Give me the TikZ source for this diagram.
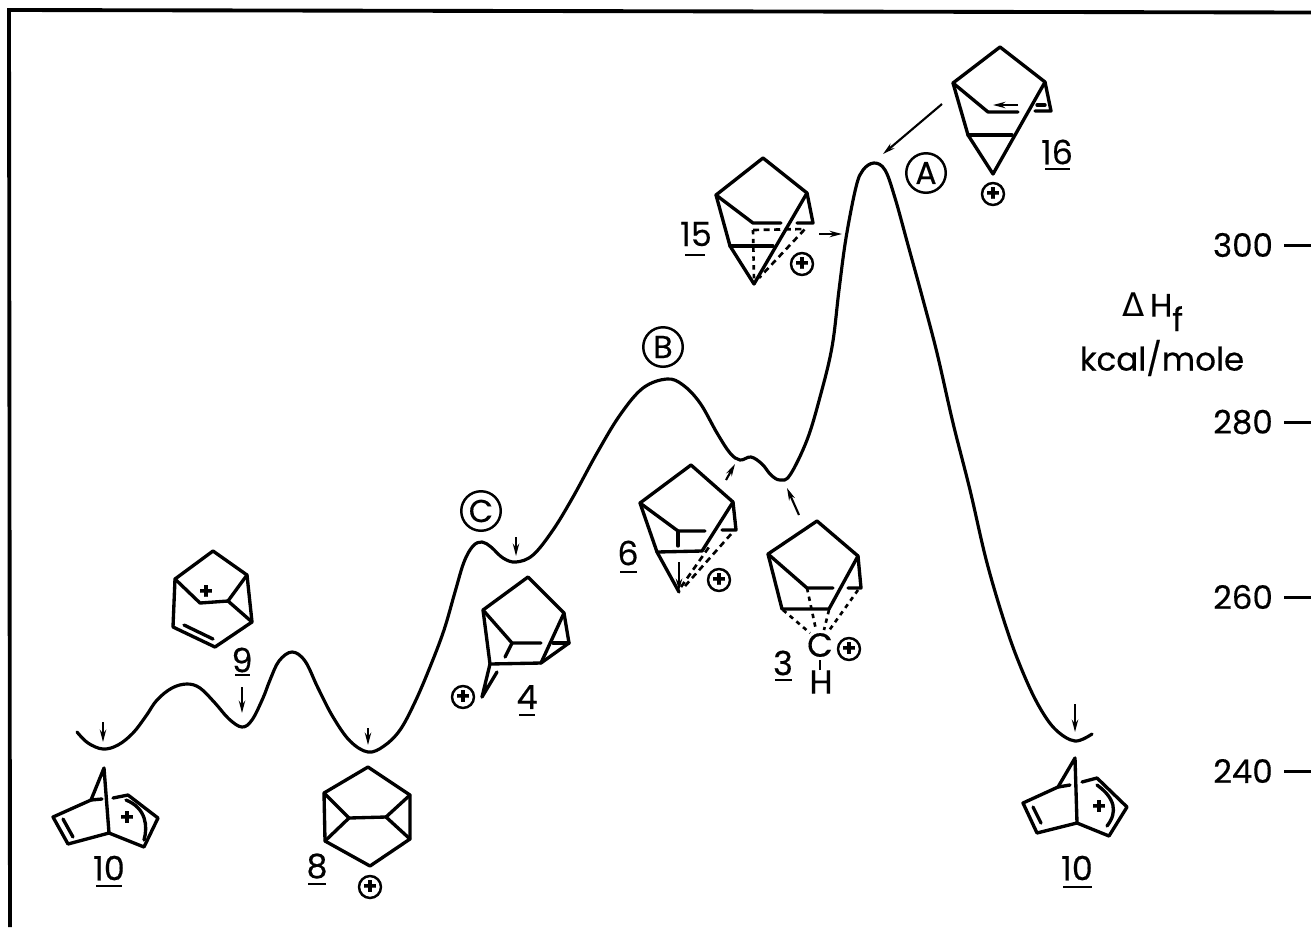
\documentclass[tikz,border=0pt]{standalone}
\usepackage{fontspec}
\setmainfont{Poppins}[FakeBold=0.35]
\newfontfamily\greekfont{DejaVu Sans}
\usetikzlibrary{arrows.meta}
\tikzset{
  frameline/.style={draw=black,line width=2.2pt},
  bond/.style={draw=black,line width=1.9pt,line join=round,line cap=round},
  thinbond/.style={draw=black,line width=1.2pt},
  dashbond/.style={draw=black,line width=1.5pt,dash pattern=on 3.5pt off 2.5pt},
  dotbond/.style={draw=black,line width=1.5pt,dash pattern=on 2.5pt off 2.5pt},
  energy/.style={draw=black,line width=1.8pt,line cap=round},
  pointer/.style={draw=black,line width=1.2pt,-{Stealth[length=7pt,width=3.6pt]}},
  tick/.style={draw=black,line width=1.7pt},
  compound/.style={font=\fontsize{19}{21}\selectfont,inner sep=0pt},
  axislabel/.style={font=\fontsize{18.5}{21}\selectfont,inner sep=0pt},
  charge/.style={circle,draw=black,line width=1.4pt,minimum size=12.5pt,inner sep=0pt,font=\fontsize{13}{13}\selectfont\bfseries},
  state/.style={circle,draw=black,line width=1.4pt,minimum size=22.5pt,inner sep=0pt,font=\fontsize{18}{20}\selectfont},
  plussign/.style={inner sep=0pt,font=\fontsize{13}{13}\selectfont\bfseries},
  underbar/.style={draw=black,line width=1.6pt}
}
\begin{document}
\begin{tikzpicture}[x=0.02cm,y=-0.02cm]
  \useasboundingbox (0,0) rectangle (1311,927);
  \draw[frameline] (10,927)--(9,10)--(1311,12.5);

  \draw[energy] plot[smooth,tension=0.6] coordinates {
    (77,732) (88,743) (103,749) (118,745) (133,733) (146,716) (157,700) (172,688) (187,684)
    (200,688) (215,703) (229,719) (242,727) (252,720) (263,698) (270,680) (279,661)
    (292,652) (305,661) (318,688) (333,717) (350,741) (368,752) (384,746) (400,730)
    (415,702) (430,667) (444,630) (455,592) (464,562) (473,546) (482,542) (491,547)
    (503,558) (516,562) (533,555) (553,530) (573,497) (597,453) (620,415) (643,388)
    (667,379) (683,385) (700,403) (717,433) (730,453) (740,460) (751,457) (762,464)
    (771,475) (780,480) (790,475) (807,440) (820,397) (832,347) (839,290) (846,238)
    (856,187) (863,170) (874,163) (885,170) (895,198) (908,245) (922,296) (937,353)
    (953,423) (970,490) (987,563) (1007,630) (1024,675) (1040,708) (1056,730)
    (1075,741) (1092,734)};

  \foreach \x/\ya/\yb in {103/722/742,242/687/713,368/728/745,516/537/556,1075/704/732}
    \draw[pointer] (\x,\ya)--(\x,\yb);
  \draw[pointer] (726,480)--(735,464);
  \draw[pointer] (799,515)--(787,488);
  \draw[pointer] (819,234)--(842,234);
  \draw[pointer] (942,104)--(883,154);

  \draw[bond] (173,627)--(175,579)--(213,551)--(247,575)--(252,622)--(215,647)--cycle;
  \draw[bond] (175,579)--(200,603)--(228,601)--(247,575);
  \draw[bond] (228,601)--(252,622);
  \draw[bond] (184,625)--(213,639);
  \node[plussign] (plus9) at (206,592) {+};
  \node[compound] (nine) at (242,660) {9};
  \draw[underbar] (235,675)--(250,675);

  \draw[bond] (109,833)--(104,768)--(91,800)--(53,817)--(68,844)--cycle;
  \draw[bond] (91,800)--(102,799);
  \draw[bond] (113,798)--(128,795)--(158,818)--(144,847)--(109,833);
  \draw[bond] (63,819)--(73,837);
  \draw[bond] (126,800) .. controls (146,808) and (148,826) .. (144,840);
  \node[plussign] (plusa) at (127,818) {+};
  \node[compound] (tena) at (109,868) {10};
  \draw[underbar] (96,886)--(122,886);

  \draw[bond] (368,767)--(410,795)--(410,839)--(370,866)--(325,841)--(324,793)--cycle;
  \draw[bond] (324,793)--(349,818)--(325,841);
  \draw[bond] (349,818)--(386,817);
  \draw[bond] (410,795)--(386,817)--(410,839);
  \node[compound] (eight) at (317,866) {8};
  \draw[underbar] (308,884)--(326,884);
  \node[charge] (ch8) at (370,887) {+};

  \draw[bond] (483,610)--(528,577)--(564,613)--(569,643)--(541,663)--(490,664)--cycle;
  \draw[bond] (564,613)--(541,663);
  \draw[bond] (483,610)--(512,643)--(541,643);
  \draw[bond] (512,643)--(505,657);
  \draw[bond] (553,643)--(569,643);
  \draw[bond] (490,664)--(482,697)--(497,672);
  \node[charge] (ch4) at (463,697) {+};
  \node[compound] (four) at (527,697) {4};
  \draw[underbar] (519,715)--(535,715);

  \draw[bond] (657,552)--(640,503)--(691,465)--(733,502)--(736,530)--(722,530);
  \draw[bond] (657,552)--(702,551)--(733,502);
  \draw[bond] (640,503)--(678,531)--(705,531);
  \draw[bond] (678,531)--(678,546);
  \draw[bond] (657,552)--(679,592);
  \draw[pointer] (679,562)--(679,591);
  \draw[dashbond] (681,587)--(709,547);
  \draw[dashbond] (685,586)--(732,533);
  \node[charge] (ch6) at (719,580) {+};
  \node[compound] (six) at (628,553) {6};
  \draw[underbar] (620,572)--(637,572);

  \draw[bond] (782,609)--(768,554)--(817,521)--(858,556)--(861,588)--(848,588);
  \draw[bond] (782,609)--(829,609)--(858,556);
  \draw[bond] (768,554)--(807,588)--(833,588);
  \node[compound] (carbon) at (820,645) {C};
  \node[compound] (hydrogen) at (821,682) {H};
  \draw[thinbond] (820,660)--(820,670);
  \foreach \xa/\ya/\xb/\yb in {807/588/816/630,783/610/810/633,829/610/824/630,858/590/828/632}
    \draw[dotbond] (\xa,\ya)--(\xb,\yb);
  \node[charge] (ch3) at (849,649) {+};
  \node[compound] (three) at (783,663) {3};
  \draw[underbar] (775,680)--(792,680);

  \draw[bond] (754,284)--(730,246)--(716,195)--(763,158)--(807,193)--(813,223)--(797,223);
  \draw[bond] (730,246)--(773,246);
  \draw[bond] (807,193)--(754,284);
  \draw[bond] (716,195)--(753,223)--(781,223);
  \draw[dashbond] (753,230)--(805,229)--(759,278);
  \draw[dotbond] (753,230)--(754,280);
  \node[charge] (ch15) at (802,264) {+};
  \node[compound] (fifteen) at (696,234) {15};
  \draw[underbar] (685,255)--(705,255);

  \draw[bond] (993,174)--(968,135)--(953,83)--(1000,47)--(1045,82)--(1051,111)--(1035,111);
  \draw[bond] (968,135)--(1012,135);
  \draw[bond] (1045,82)--(993,174);
  \draw[bond] (953,83)--(988,112)--(1018,112);
  \draw[pointer] (1018,105)--(993,105);
  \draw[bond] (1037,105)--(1045,105);
  \node[charge] (ch16) at (993,194) {+};
  \node[compound] (sixteen) at (1057,152) {16};
  \draw[underbar] (1045,169)--(1070,169);

  \draw[bond] (1077,823)--(1075,758)--(1058,787)--(1023,803)--(1037,833)--cycle;
  \draw[bond] (1058,787)--(1070,785);
  \draw[bond] (1082,782)--(1097,778)--(1127,807)--(1109,836)--(1077,823);
  \draw[bond] (1033,807)--(1041,823);
  \draw[bond] (1097,785) .. controls (1115,798) and (1118,812) .. (1107,826);
  \node[plussign] (plusb) at (1099,807) {+};
  \node[compound] (tenb) at (1077,868) {10};
  \draw[underbar] (1063,887)--(1092,887);

  \node[state] (stateA) at (926,173) {A};
  \node[state] (stateB) at (663,347) {B};
  \node[state] (stateC) at (481,511) {C};

  \foreach \val/\y in {300/245,280/422,260/597,240/771} {
    \node[axislabel] (lab\val) at (1243,\y) {\val};
    \draw[tick] (1284,\y)--(1311,\y);
  }
  \node[axislabel] (unitH) at (1153,312) {{\greekfont Δ}\,H$_{\textrm{f}}$};
  \node[axislabel] (unit) at (1162,358) {kcal/mole};
\end{tikzpicture}
\end{document}
